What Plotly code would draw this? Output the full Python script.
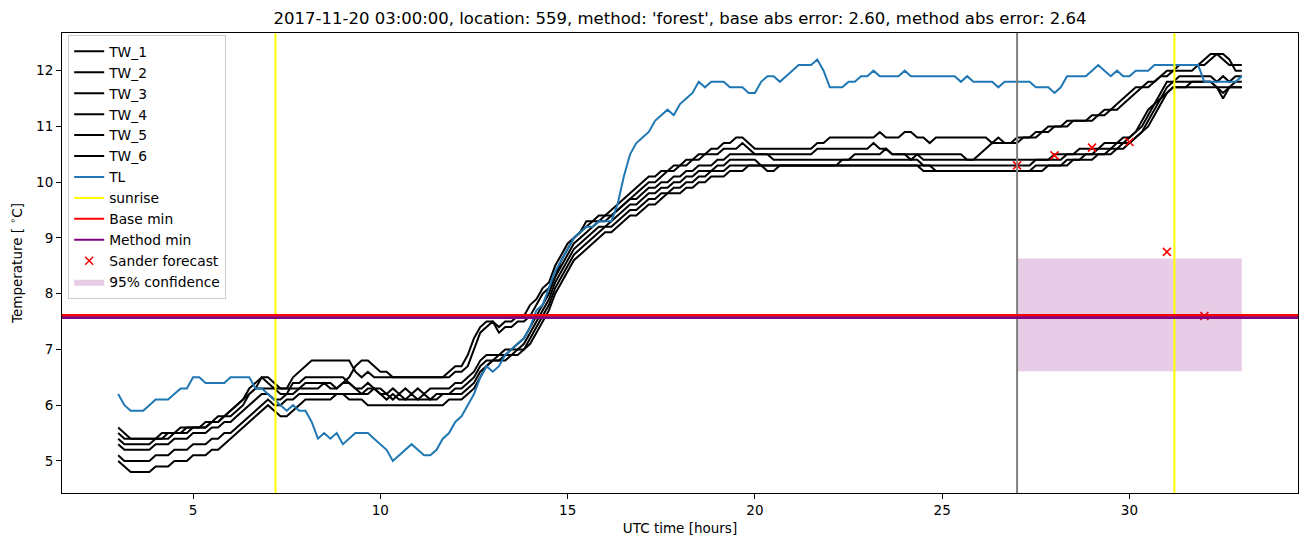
import numpy as np
import plotly.graph_objects as go

# ---------------- data (10-minute samples, 03:00 .. 33:00 UTC hours) ----------------
start_hour = 3.0
step_hours = 1 / 6
n_samples = 181
hours = np.round(start_hour + np.arange(n_samples) * step_hours, 4)

tw_1 = [
    5.6, 5.5, 5.4, 5.4, 5.4, 5.4,
    5.4, 5.4, 5.5, 5.5, 5.5, 5.6,
    5.6, 5.6, 5.6, 5.7, 5.7, 5.8,
    5.9, 6.0, 6.1, 6.3, 6.4, 6.5,
    6.4, 6.3, 6.3, 6.3, 6.5, 6.6,
    6.7, 6.8, 6.8, 6.8, 6.8, 6.8,
    6.8, 6.8, 6.6, 6.5, 6.6, 6.5,
    6.5, 6.5, 6.5, 6.5, 6.5, 6.5,
    6.5, 6.5, 6.5, 6.5, 6.5, 6.6,
    6.7, 6.7, 6.9, 7.2, 7.4, 7.5,
    7.5, 7.4, 7.5, 7.5, 7.6, 7.6,
    7.8, 7.9, 8.1, 8.2, 8.5, 8.7,
    8.9, 9.0, 9.1, 9.3, 9.3, 9.4,
    9.4, 9.5, 9.6, 9.7, 9.8, 9.9,
    10.0, 10.1, 10.1, 10.2, 10.2, 10.3,
    10.3, 10.4, 10.4, 10.5, 10.5, 10.6,
    10.6, 10.7, 10.7, 10.8, 10.8, 10.7,
    10.6, 10.6, 10.6, 10.6, 10.6, 10.6,
    10.6, 10.6, 10.6, 10.6, 10.7, 10.7,
    10.8, 10.8, 10.8, 10.8, 10.8, 10.8,
    10.8, 10.8, 10.9, 10.8, 10.8, 10.8,
    10.9, 10.9, 10.8, 10.8, 10.7, 10.8,
    10.8, 10.8, 10.8, 10.8, 10.8, 10.8,
    10.8, 10.8, 10.7, 10.8, 10.7, 10.7,
    10.8, 10.8, 10.8, 10.9, 10.9, 11.0,
    11.0, 11.0, 11.1, 11.1, 11.1, 11.1,
    11.2, 11.2, 11.3, 11.3, 11.4, 11.5,
    11.6, 11.7, 11.7, 11.8, 11.8, 11.9,
    12.0, 12.0, 12.1, 12.1, 12.1, 12.1,
    12.2, 12.3, 12.3, 12.2, 12.1, 12.1,
    12.1,
]

tw_2 = [
    5.5, 5.4, 5.4, 5.4, 5.4, 5.4,
    5.4, 5.5, 5.5, 5.5, 5.6, 5.6,
    5.6, 5.6, 5.7, 5.7, 5.8, 5.8,
    5.8, 5.9, 6.0, 6.2, 6.3, 6.5,
    6.5, 6.4, 6.3, 6.3, 6.3, 6.3,
    6.4, 6.4, 6.4, 6.4, 6.4, 6.3,
    6.4, 6.5, 6.7, 6.8, 6.8, 6.7,
    6.6, 6.6, 6.5, 6.5, 6.5, 6.5,
    6.5, 6.5, 6.5, 6.5, 6.5, 6.5,
    6.6, 6.6, 6.7, 7.0, 7.3, 7.4,
    7.5, 7.3, 7.4, 7.4, 7.5, 7.5,
    7.6, 7.8, 8.0, 8.1, 8.3, 8.6,
    8.8, 9.0, 9.1, 9.2, 9.3, 9.3,
    9.4, 9.4, 9.5, 9.6, 9.7, 9.8,
    9.9, 10.0, 10.0, 10.1, 10.2, 10.2,
    10.3, 10.3, 10.4, 10.4, 10.5, 10.5,
    10.5, 10.6, 10.6, 10.6, 10.7, 10.6,
    10.5, 10.5, 10.5, 10.5, 10.5, 10.5,
    10.5, 10.5, 10.5, 10.5, 10.6, 10.6,
    10.6, 10.6, 10.6, 10.6, 10.6, 10.6,
    10.6, 10.7, 10.6, 10.6, 10.5, 10.5,
    10.5, 10.5, 10.5, 10.5, 10.5, 10.5,
    10.5, 10.5, 10.5, 10.5, 10.4, 10.4,
    10.5, 10.6, 10.7, 10.7, 10.7, 10.7,
    10.7, 10.8, 10.8, 10.8, 10.9, 10.9,
    11.0, 11.0, 11.0, 11.1, 11.1, 11.1,
    11.1, 11.2, 11.2, 11.3, 11.3, 11.4,
    11.5, 11.6, 11.7, 11.7, 11.8, 11.9,
    11.9, 12.0, 12.0, 12.0, 12.0, 12.1,
    12.1, 12.2, 12.3, 12.3, 12.2, 12.0,
    12.0,
]

tw_3 = [
    5.4, 5.3, 5.3, 5.3, 5.3, 5.3,
    5.4, 5.4, 5.4, 5.5, 5.5, 5.5,
    5.6, 5.6, 5.6, 5.7, 5.7, 5.8,
    5.9, 6.0, 6.1, 6.2, 6.3, 6.3,
    6.3, 6.3, 6.2, 6.2, 6.4, 6.4,
    6.5, 6.5, 6.5, 6.5, 6.5, 6.5,
    6.5, 6.4, 6.3, 6.3, 6.4, 6.3,
    6.3, 6.2, 6.3, 6.2, 6.3, 6.2,
    6.3, 6.2, 6.3, 6.3, 6.3, 6.3,
    6.4, 6.4, 6.5, 6.6, 6.8, 6.9,
    6.9, 6.9, 7.0, 7.0, 7.1, 7.2,
    7.4, 7.6, 7.8, 8.0, 8.3, 8.5,
    8.7, 8.9, 9.0, 9.1, 9.2, 9.3,
    9.3, 9.4, 9.5, 9.6, 9.7, 9.7,
    9.8, 9.9, 9.9, 10.0, 10.0, 10.1,
    10.1, 10.2, 10.2, 10.3, 10.3, 10.3,
    10.4, 10.4, 10.5, 10.5, 10.5, 10.5,
    10.5, 10.5, 10.5, 10.4, 10.4, 10.4,
    10.4, 10.4, 10.4, 10.4, 10.4, 10.4,
    10.4, 10.4, 10.4, 10.4, 10.5, 10.5,
    10.5, 10.5, 10.5, 10.6, 10.5, 10.5,
    10.5, 10.4, 10.5, 10.4, 10.4, 10.4,
    10.4, 10.4, 10.4, 10.4, 10.4, 10.4,
    10.4, 10.4, 10.4, 10.4, 10.4, 10.4,
    10.4, 10.4, 10.4, 10.4, 10.4, 10.4,
    10.5, 10.5, 10.5, 10.5, 10.6, 10.6,
    10.6, 10.6, 10.7, 10.7, 10.7, 10.8,
    10.8, 10.9, 11.1, 11.3, 11.4, 11.6,
    11.8, 11.8, 11.9, 11.9, 11.9, 11.9,
    11.9, 11.9, 11.8, 11.9, 11.8, 11.9,
    11.9,
]

tw_4 = [
    5.3, 5.2, 5.2, 5.2, 5.2, 5.2,
    5.3, 5.3, 5.3, 5.4, 5.4, 5.4,
    5.5, 5.5, 5.5, 5.6, 5.6, 5.7,
    5.7, 5.8, 5.9, 6.0, 6.1, 6.2,
    6.2, 6.1, 6.1, 6.2, 6.2, 6.3,
    6.3, 6.3, 6.3, 6.4, 6.3, 6.3,
    6.4, 6.4, 6.3, 6.2, 6.2, 6.3,
    6.2, 6.2, 6.1, 6.2, 6.1, 6.2,
    6.1, 6.2, 6.1, 6.2, 6.2, 6.2,
    6.3, 6.3, 6.4, 6.5, 6.7, 6.8,
    6.8, 6.9, 6.9, 7.0, 7.0, 7.1,
    7.3, 7.5, 7.7, 7.9, 8.2, 8.4,
    8.6, 8.8, 8.9, 9.0, 9.1, 9.2,
    9.2, 9.3, 9.4, 9.5, 9.6, 9.6,
    9.7, 9.8, 9.8, 9.9, 9.9, 10.0,
    10.0, 10.1, 10.1, 10.2, 10.2, 10.2,
    10.3, 10.3, 10.4, 10.4, 10.4, 10.4,
    10.4, 10.3, 10.3, 10.3, 10.3, 10.3,
    10.3, 10.3, 10.3, 10.3, 10.3, 10.3,
    10.3, 10.3, 10.4, 10.4, 10.4, 10.4,
    10.4, 10.4, 10.4, 10.4, 10.4, 10.4,
    10.4, 10.4, 10.4, 10.3, 10.3, 10.3,
    10.3, 10.3, 10.3, 10.3, 10.3, 10.3,
    10.3, 10.3, 10.3, 10.3, 10.3, 10.3,
    10.3, 10.3, 10.3, 10.4, 10.4, 10.4,
    10.4, 10.4, 10.5, 10.5, 10.5, 10.5,
    10.5, 10.6, 10.6, 10.6, 10.7, 10.7,
    10.8, 10.9, 11.0, 11.2, 11.4, 11.5,
    11.7, 11.8, 11.8, 11.8, 11.8, 11.8,
    11.8, 11.8, 11.7, 11.6, 11.7, 11.8,
    11.8,
]

tw_5 = [
    5.1, 5.0, 5.0, 5.0, 5.0, 5.0,
    5.1, 5.1, 5.1, 5.2, 5.2, 5.2,
    5.3, 5.3, 5.3, 5.4, 5.4, 5.5,
    5.5, 5.6, 5.7, 5.8, 5.9, 6.0,
    6.1, 6.0, 6.0, 6.1, 6.1, 6.2,
    6.2, 6.2, 6.2, 6.2, 6.2, 6.2,
    6.2, 6.2, 6.2, 6.2, 6.3, 6.3,
    6.2, 6.1, 6.2, 6.1, 6.1, 6.1,
    6.1, 6.1, 6.1, 6.1, 6.2, 6.2,
    6.2, 6.2, 6.3, 6.4, 6.6, 6.7,
    6.8, 6.8, 6.9, 6.9, 7.0, 7.0,
    7.2, 7.4, 7.6, 7.8, 8.1, 8.3,
    8.5, 8.7, 8.8, 8.9, 9.0, 9.1,
    9.2, 9.2, 9.3, 9.4, 9.5, 9.5,
    9.6, 9.7, 9.7, 9.8, 9.8, 9.9,
    9.9, 10.0, 10.0, 10.1, 10.1, 10.2,
    10.2, 10.2, 10.3, 10.3, 10.3, 10.3,
    10.3, 10.3, 10.2, 10.2, 10.3, 10.3,
    10.3, 10.3, 10.3, 10.3, 10.3, 10.3,
    10.3, 10.3, 10.3, 10.3, 10.3, 10.3,
    10.3, 10.3, 10.3, 10.3, 10.3, 10.3,
    10.3, 10.3, 10.3, 10.3, 10.3, 10.2,
    10.2, 10.2, 10.2, 10.2, 10.2, 10.2,
    10.2, 10.2, 10.2, 10.2, 10.2, 10.2,
    10.2, 10.2, 10.2, 10.3, 10.3, 10.3,
    10.3, 10.3, 10.4, 10.4, 10.4, 10.5,
    10.5, 10.5, 10.5, 10.6, 10.6, 10.7,
    10.7, 10.8, 10.9, 11.1, 11.3, 11.5,
    11.6, 11.7, 11.7, 11.7, 11.7, 11.7,
    11.7, 11.7, 11.7, 11.7, 11.7, 11.7,
    11.7,
]

tw_6 = [
    5.0, 4.9, 4.8, 4.8, 4.8, 4.8,
    4.9, 4.9, 4.9, 5.0, 5.0, 5.0,
    5.1, 5.1, 5.1, 5.2, 5.2, 5.3,
    5.4, 5.5, 5.6, 5.7, 5.8, 5.9,
    6.0, 5.9, 5.8, 5.8, 5.9, 6.0,
    6.1, 6.1, 6.1, 6.1, 6.1, 6.2,
    6.2, 6.1, 6.1, 6.1, 6.0, 6.0,
    6.0, 6.0, 6.0, 6.0, 6.0, 6.0,
    6.0, 6.0, 6.0, 6.0, 6.0, 6.1,
    6.1, 6.1, 6.2, 6.3, 6.5, 6.7,
    6.8, 6.8, 6.8, 6.9, 6.9, 7.0,
    7.1, 7.3, 7.5, 7.7, 8.0, 8.2,
    8.4, 8.6, 8.7, 8.8, 8.9, 9.0,
    9.1, 9.1, 9.2, 9.3, 9.4, 9.4,
    9.5, 9.6, 9.6, 9.7, 9.8, 9.8,
    9.8, 9.9, 9.9, 10.0, 10.0, 10.1,
    10.1, 10.1, 10.2, 10.2, 10.2, 10.3,
    10.3, 10.3, 10.3, 10.3, 10.3, 10.3,
    10.3, 10.3, 10.3, 10.3, 10.3, 10.3,
    10.3, 10.3, 10.3, 10.3, 10.3, 10.3,
    10.3, 10.3, 10.3, 10.3, 10.3, 10.3,
    10.3, 10.3, 10.3, 10.2, 10.2, 10.2,
    10.2, 10.2, 10.2, 10.2, 10.2, 10.2,
    10.2, 10.2, 10.2, 10.2, 10.2, 10.2,
    10.2, 10.2, 10.2, 10.2, 10.2, 10.3,
    10.3, 10.3, 10.3, 10.4, 10.4, 10.4,
    10.4, 10.5, 10.5, 10.5, 10.6, 10.6,
    10.7, 10.8, 10.9, 11.0, 11.2, 11.4,
    11.6, 11.7, 11.7, 11.7, 11.8, 11.8,
    11.8, 11.8, 11.7, 11.5, 11.7, 11.7,
    11.7,
]

tl = [
    6.2, 6.0, 5.9, 5.9, 5.9, 6.0,
    6.1, 6.1, 6.1, 6.2, 6.3, 6.3,
    6.5, 6.5, 6.4, 6.4, 6.4, 6.4,
    6.5, 6.5, 6.5, 6.5, 6.3, 6.3,
    6.2, 6.1, 6.0, 5.9, 6.0, 5.9,
    5.9, 5.7, 5.4, 5.5, 5.4, 5.5,
    5.3, 5.4, 5.5, 5.5, 5.5, 5.4,
    5.3, 5.2, 5.0, 5.1, 5.2, 5.3,
    5.2, 5.1, 5.1, 5.2, 5.4, 5.5,
    5.7, 5.8, 6.0, 6.2, 6.5, 6.7,
    6.6, 6.7, 6.9, 7.0, 7.1, 7.2,
    7.4, 7.7, 7.8, 8.1, 8.4, 8.6,
    8.8, 9.0, 9.1, 9.2, 9.2, 9.3,
    9.3, 9.3, 9.6, 10.1, 10.5, 10.7,
    10.8, 10.9, 11.1, 11.2, 11.3, 11.2,
    11.4, 11.5, 11.6, 11.8, 11.7, 11.8,
    11.8, 11.8, 11.7, 11.7, 11.7, 11.6,
    11.6, 11.8, 11.9, 11.9, 11.8, 11.9,
    12.0, 12.1, 12.1, 12.1, 12.2, 12.0,
    11.7, 11.7, 11.7, 11.8, 11.8, 11.9,
    11.9, 12.0, 11.9, 11.9, 11.9, 11.9,
    12.0, 11.9, 11.9, 11.9, 11.9, 11.9,
    11.9, 11.9, 11.9, 11.8, 11.9, 11.8,
    11.8, 11.8, 11.8, 11.7, 11.8, 11.8,
    11.8, 11.8, 11.8, 11.7, 11.7, 11.7,
    11.6, 11.7, 11.9, 11.9, 11.9, 11.9,
    12.0, 12.1, 12.0, 11.9, 12.0, 11.9,
    11.9, 12.0, 12.0, 12.0, 12.1, 12.1,
    12.1, 12.1, 12.1, 12.1, 12.1, 12.1,
    11.8, 11.8, 11.8, 11.8, 11.8, 11.8,
    11.9,
]

tw_names = ["TW_1", "TW_2", "TW_3", "TW_4", "TW_5", "TW_6"]
tw_series = [tw_1, tw_2, tw_3, tw_4, tw_5, tw_6]

sunrise_hours = [7.2, 31.2]
forecast_start_hour = 27.0
base_min = 7.61
method_min = 7.57
forecast_hours = [27, 28, 29, 30, 31, 32]
forecast_values = [10.3, 10.48, 10.62, 10.72, 8.75, 7.6]
conf_hours = [27.0, 33.0]
conf_low = 6.61
conf_high = 8.63

title_text = ("2017-11-20 03:00:00, location: 559, method: 'forest', "
              "base abs error: 2.60, method abs error: 2.64")

# ---------------- figure ----------------
FONT = "DejaVu Sans"
fig = go.Figure()

for name, vals in zip(tw_names, tw_series):
    fig.add_trace(go.Scatter(x=hours, y=vals, mode="lines", name=name,
                             line=dict(color="black", width=2)))

fig.add_trace(go.Scatter(x=hours, y=tl, mode="lines", name="TL",
                         line=dict(color="#1f77b4", width=2)))

# legend-only entries for the reference lines drawn as shapes
fig.add_trace(go.Scatter(x=[None], y=[None], mode="lines", name="sunrise",
                         line=dict(color="#ffff00", width=2)))
fig.add_trace(go.Scatter(x=[None], y=[None], mode="lines", name="Base min",
                         line=dict(color="red", width=2)))
fig.add_trace(go.Scatter(x=[None], y=[None], mode="lines", name="Method min",
                         line=dict(color="purple", width=2)))

fig.add_trace(go.Scatter(x=forecast_hours, y=forecast_values, mode="markers",
                         name="Sander forecast",
                         marker=dict(symbol="x-thin", size=8, color="red",
                                     line=dict(color="red", width=1.6))))

fig.add_trace(go.Scatter(
    x=[conf_hours[0], conf_hours[1], conf_hours[1], conf_hours[0], conf_hours[0]],
    y=[conf_low, conf_low, conf_high, conf_high, conf_low],
    mode="lines", fill="toself", fillcolor="rgba(128,0,128,0.2)",
    line=dict(width=0, color="rgba(128,0,128,0)"),
    name="95% confidence"))

shapes = []
for sh in sunrise_hours:
    shapes.append(dict(type="line", xref="x", yref="paper", x0=sh, x1=sh, y0=0, y1=1,
                       line=dict(color="#ffff00", width=2)))
shapes.append(dict(type="line", xref="x", yref="paper", x0=forecast_start_hour,
                   x1=forecast_start_hour, y0=0, y1=1, line=dict(color="gray", width=2)))
shapes.append(dict(type="line", xref="paper", yref="y", x0=0, x1=1, y0=base_min,
                   y1=base_min, line=dict(color="red", width=2.8)))
shapes.append(dict(type="line", xref="paper", yref="y", x0=0, x1=1, y0=method_min,
                   y1=method_min, line=dict(color="purple", width=2.8)))

axis_common = dict(showline=True, linecolor="black", linewidth=1.1, mirror=True,
                   ticks="outside", ticklen=5, tickwidth=1.1, tickcolor="black",
                   showgrid=False, zeroline=False,
                   tickfont=dict(family=FONT, size=13.5, color="black"))

fig.update_layout(
    width=1311, height=547,
    margin=dict(l=62, r=13, t=33, b=54),
    paper_bgcolor="white", plot_bgcolor="white",
    shapes=shapes,
    title=dict(text=title_text, x=0.5, xref="paper", xanchor="center",
               y=1 - 18 / 547, yref="container", yanchor="middle",
               font=dict(family=FONT, size=16.5, color="black")),
    xaxis=dict(range=[1.5, 34.5], tick0=0, dtick=5,
               title=dict(text="UTC time [hours]", standoff=6,
                          font=dict(family=FONT, size=13.5, color="black")),
               **axis_common),
    yaxis=dict(range=[4.425, 12.675], tick0=0, dtick=1,
               title=dict(text="Temperature [ <sup>∘</sup>C]", standoff=10,
                          font=dict(family=FONT, size=13.5, color="black")),
               **axis_common),
    legend=dict(x=0.005, y=0.996, xanchor="left", yanchor="top",
                bgcolor="rgba(255,255,255,0.8)", bordercolor="#cccccc", borderwidth=1,
                font=dict(family=FONT, size=13.8, color="black"),
                traceorder="normal"),
    showlegend=True,
)

fig.write_html("out.html")
